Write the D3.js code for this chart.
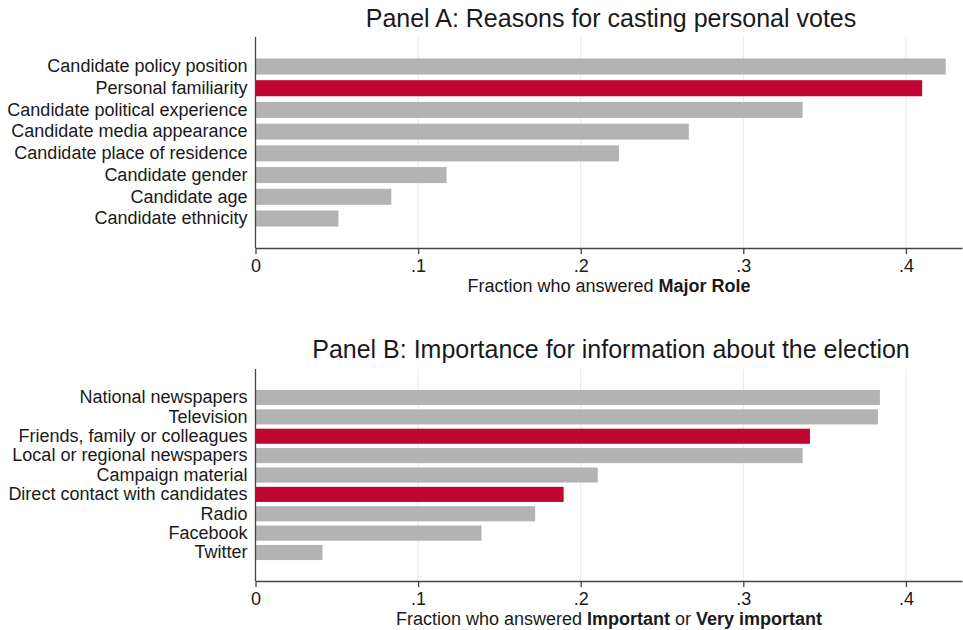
<!DOCTYPE html>
<html>
<head>
<meta charset="utf-8">
<script src="https://cdn.jsdelivr.net/npm/d3@7"></script>
<style>
  body { margin: 0; background: #fff; }
  text { font-family: "Liberation Sans", Arial, sans-serif; fill: #1a1a1a; }
</style>
</head>
<body>
<svg id="chart"></svg>
<script>
// Panel A data
var reasonLabels = ["Candidate policy position", "Personal familiarity", "Candidate political experience",
  "Candidate media appearance", "Candidate place of residence", "Candidate gender", "Candidate age", "Candidate ethnicity"];
var reasonValues = [0.4245, 0.410, 0.3365, 0.2665, 0.2235, 0.1175, 0.0835, 0.051];
var reasonHighlight = ["Personal familiarity"];

// Panel B data
var infoLabels = ["National newspapers", "Television", "Friends, family or colleagues", "Local or regional newspapers",
  "Campaign material", "Direct contact with candidates", "Radio", "Facebook", "Twitter"];
var infoValues = [0.384, 0.3828, 0.341, 0.3365, 0.2105, 0.1895, 0.172, 0.139, 0.0412];
var infoHighlight = ["Friends, family or colleagues", "Direct contact with candidates"];

var xTicks = [0, 0.1, 0.2, 0.3, 0.4];
var xTickLabels = ["0", ".1", ".2", ".3", ".4"];

var width = 963, height = 630;
var svg = d3.select("#chart").attr("width", width).attr("height", height);

var x = d3.scaleLinear().domain([0, 0.4345]).range([255.5, 962]);

function panel(opts) {
  var g = svg.append("g");
  var y = d3.scaleBand().domain(opts.labels).range(opts.band).paddingInner(opts.pad).paddingOuter(opts.pad / 2);

  g.append("text").attr("x", 611).attr("y", opts.titleY).attr("text-anchor", "middle")
    .style("font-size", "25px").text(opts.title);

  // grid
  g.selectAll(".grid").data(xTicks.slice(1)).enter().append("line")
    .attr("x1", function(d) { return x(d); }).attr("x2", function(d) { return x(d); })
    .attr("y1", opts.top).attr("y2", opts.axisY)
    .attr("stroke", "#e8e8e8").attr("stroke-width", 1);

  g.selectAll(".bar").data(opts.labels).enter().append("rect")
    .attr("x", x(0))
    .attr("y", function(d) { return y(d); })
    .attr("height", y.bandwidth())
    .attr("width", function(d, i) { return x(opts.values[i]) - x(0); })
    .attr("fill", function(d) { return opts.highlight.indexOf(d) >= 0 ? "#c00632" : "#b3b3b3"; });

  // y axis
  var ya = g.append("g").attr("transform", "translate(" + x(0) + ",0)")
    .call(d3.axisLeft(y).tickSize(0).tickPadding(8));
  ya.select(".domain").remove();
  ya.selectAll("text").style("font-size", "18px").style("font-family", "Liberation Sans, Arial, sans-serif").attr("fill", "#1a1a1a");
  g.append("line").attr("x1", x(0)).attr("x2", x(0)).attr("y1", opts.top).attr("y2", opts.axisY)
    .attr("stroke", "#444").attr("stroke-width", 1.3);

  // x axis
  var xa = g.append("g").attr("transform", "translate(0," + opts.axisY + ")")
    .call(d3.axisBottom(x).tickValues(xTicks).tickFormat(function(d, i) { return xTickLabels[i]; })
      .tickSize(6).tickSizeOuter(0).tickPadding(5));
  xa.select(".domain").attr("stroke", "#444").attr("stroke-width", 1.3);
  xa.selectAll(".tick line").attr("stroke", "#444").attr("stroke-width", 1.3);
  xa.selectAll("text").style("font-size", "18px").style("font-family", "Liberation Sans, Arial, sans-serif").attr("fill", "#1a1a1a");

  var t = g.append("text").attr("x", 609).attr("y", opts.axisY + 44).attr("text-anchor", "middle")
    .style("font-size", "18px");
  opts.axisTitle.forEach(function(p) {
    t.append("tspan").style("font-weight", p[1] ? "bold" : "normal").text(p[0]);
  });
}

panel({
  title: "Panel A: Reasons for casting personal votes",
  titleY: 27, top: 37, axisY: 248, band: [55.65, 229.35], pad: 0.26,
  labels: reasonLabels, values: reasonValues, highlight: reasonHighlight,
  axisTitle: [["Fraction who answered ", false], ["Major Role", true]]
});

panel({
  title: "Panel B: Importance for information about the election",
  titleY: 358, top: 369, axisY: 581, band: [387.8, 562.2], pad: 0.22,
  labels: infoLabels, values: infoValues, highlight: infoHighlight,
  axisTitle: [["Fraction who answered ", false], ["Important", true], [" or ", false], ["Very important", true]]
});
</script>
</body>
</html>
